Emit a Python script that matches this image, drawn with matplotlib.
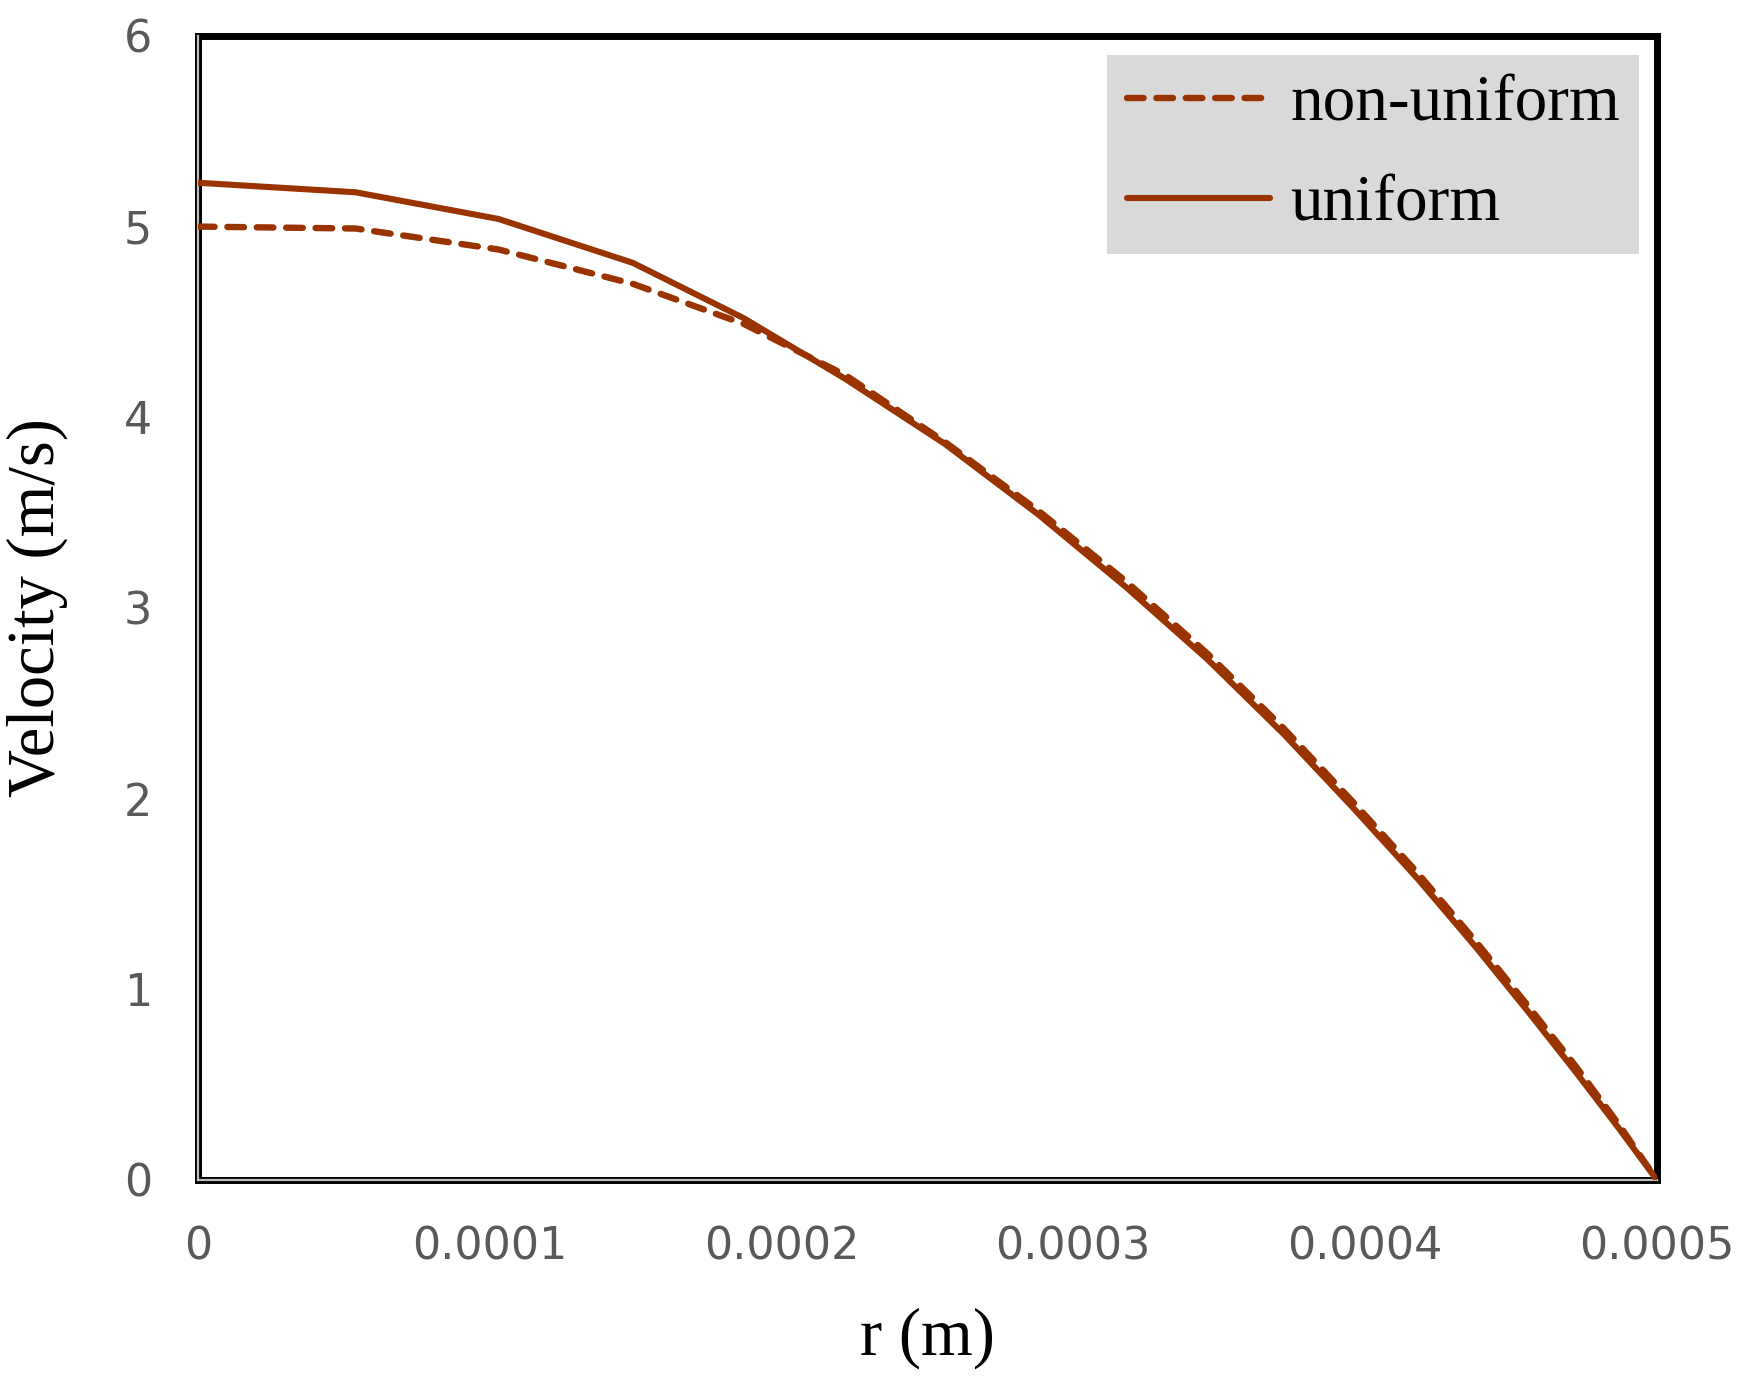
import matplotlib.pyplot as plt

# radial positions (m) and velocities (m/s)
r_nodes = [0.0, 0.000054, 0.000103, 0.000149, 0.000187, 0.000222, 0.000256,
           0.000288, 0.000318, 0.000346, 0.000372, 0.000396, 0.000418,
           0.000438, 0.000456, 0.000472, 0.000487, 0.0005]
v_uniform = [5.23, 5.18, 5.04, 4.81, 4.52, 4.20, 3.86, 3.49, 3.11, 2.73,
             2.34, 1.95, 1.58, 1.22, 0.88, 0.57, 0.27, 0.0]
v_nonuniform = [5.00, 4.99, 4.88, 4.70, 4.49, 4.22, 3.87, 3.51, 3.14, 2.76,
                2.37, 1.98, 1.61, 1.25, 0.91, 0.60, 0.29, 0.0]

x_ticks = [0, 0.0001, 0.0002, 0.0003, 0.0004, 0.0005]
x_tick_labels = ["0", "0.0001", "0.0002", "0.0003", "0.0004", "0.0005"]
y_ticks = [0, 1, 2, 3, 4, 5, 6]

line_color = "#993300"
tick_font = ["DejaVu Sans"]
label_font = ["Liberation Serif", "DejaVu Serif"]

fig = plt.figure(figsize=(17.43, 13.82), dpi=100)
ax = fig.add_axes([0.1136, 0.1462, 0.837, 0.8278])

ax.plot(r_nodes, v_nonuniform, color=line_color, lw=4.6, zorder=4,
        linestyle=(0, (2.6, 2.0)), dash_capstyle="round", label="non-uniform")
ax.plot(r_nodes, v_uniform, color=line_color, lw=4.4, zorder=4,
        solid_capstyle="round", label="uniform")

ax.set_xlim(0, 0.0005)
ax.set_ylim(0, 6)
ax.set_xticks(x_ticks)
ax.set_xticklabels(x_tick_labels)
ax.set_yticks(y_ticks)
ax.tick_params(length=0, pad=33, labelsize=32, labelcolor="#595959")
for lab in ax.get_xticklabels() + ax.get_yticklabels():
    lab.set_family(tick_font)

# black frame, with a thin grey line inside the left and bottom edges
for side in ["top", "right", "left", "bottom"]:
    ax.spines[side].set_color("black")
    ax.spines[side].set_linewidth(5)
ax.axvline(0, color="#BFBFBF", lw=1.6, clip_on=False, zorder=3)
ax.axhline(0, color="#BFBFBF", lw=1.6, clip_on=False, zorder=3)

ax.set_xlabel("r (m)", family=label_font, fontsize=48, labelpad=28)
ax.set_ylabel("Velocity (m/s)", family=label_font, fontsize=48, labelpad=40)

leg = ax.legend(loc="upper right", bbox_to_anchor=(0.988, 0.983),
                borderaxespad=0, frameon=True, fancybox=False,
                facecolor="#D9D9D9", edgecolor="none", framealpha=1,
                prop={"family": label_font, "size": 47},
                handlelength=2.2, handletextpad=0.3, labelspacing=0.62,
                borderpad=0.3)

fig.savefig("out.png", dpi=100)
